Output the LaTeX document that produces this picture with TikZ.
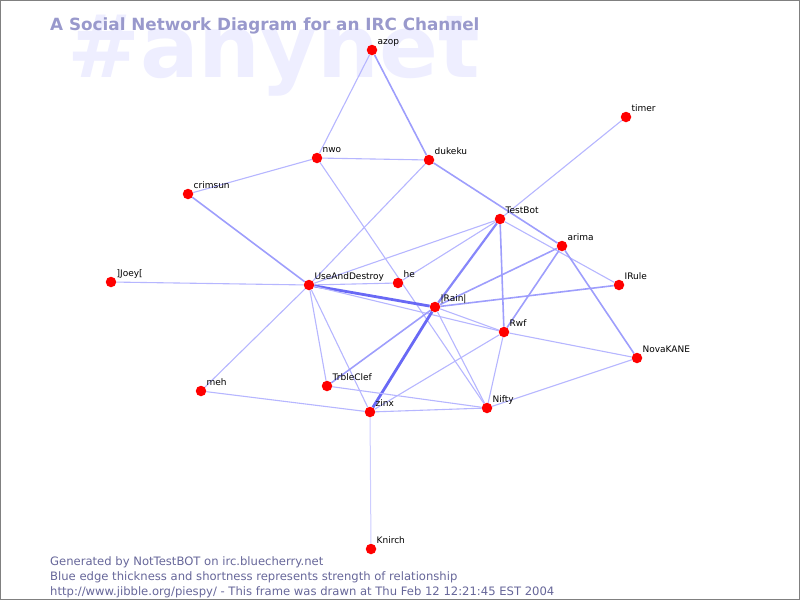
\documentclass[tikz,border=0pt]{standalone}
\usepackage{fontspec}
\setmainfont{DejaVu Sans}
\usepackage{tikz}
\usetikzlibrary{positioning}

\definecolor{WaterMark}{RGB}{238,238,255}
\definecolor{TitleBlue}{RGB}{153,153,204}
\definecolor{FootBlue}{RGB}{102,102,153}
\definecolor{EdgeFaint}{RGB}{205,205,255}
\definecolor{EdgeThin}{RGB}{182,182,255}
\definecolor{EdgeMid}{RGB}{158,158,252}
\definecolor{EdgeStrong}{RGB}{135,135,250}
\definecolor{EdgeThick}{RGB}{105,105,245}

\pgfdeclarelayer{watermark}
\pgfdeclarelayer{edges}
\pgfsetlayers{watermark,edges,main}

\begin{document}
\begin{tikzpicture}[x=1pt, y=-1pt]
    \tikzstyle{irc-user}=[circle, fill=red, minimum size=10.5pt, inner sep=0pt]
    \tikzstyle{user-name}=[anchor=base west, inner sep=0pt, yshift=5.5pt, text=black, font=\fontsize{9}{10.5}\selectfont]
    \tikzstyle{foot-line}=[anchor=base west, inner sep=0pt, text=FootBlue, font=\fontsize{11.6}{13}\selectfont]
    \tikzstyle{link-faint}=[line width=1pt, color=EdgeFaint]
    \tikzstyle{link-thin}=[line width=1.1pt, color=EdgeThin]
    \tikzstyle{link-mid}=[line width=1.6pt, color=EdgeMid]
    \tikzstyle{link-strong}=[line width=2.2pt, color=EdgeStrong]
    \tikzstyle{link-thick}=[line width=2.8pt, color=EdgeThick]

    \useasboundingbox (0,0) rectangle (800,600);
    \draw[gray, line width=1pt] (0.5,0.5) rectangle (799.5,599.5);

    \begin{pgfonlayer}{watermark}
    \node[anchor=base west, inner sep=0pt, text=WaterMark, font=\fontsize{87}{87}\selectfont\bfseries] (channel) at (67,77) {\#anynet};
    \end{pgfonlayer}
    \node[anchor=base west, inner sep=0pt, text=TitleBlue, font=\fontsize{16.8}{18}\selectfont\bfseries] (title) at (50,30) {A Social Network Diagram for an IRC Channel};

    \node[irc-user, label={[user-name]right:azop}] (azop) at (372,50) {};
    \node[irc-user, label={[user-name]right:nwo}] (nwo) at (317,158) {};
    \node[irc-user, label={[user-name]right:dukeku}] (dukeku) at (429,160) {};
    \node[irc-user, label={[user-name]right:crimsun}] (crimsun) at (188,194) {};
    \node[irc-user, label={[user-name]right:timer}] (timer) at (626,117) {};
    \node[irc-user, label={[user-name]right:TestBot}] (testbot) at (500,219) {};
    \node[irc-user, label={[user-name]right:arima}] (arima) at (562,246) {};
    \node[irc-user, label={[user-name]right:{]Joey[}}] (joey) at (111,282) {};
    \node[irc-user, label={[user-name]right:UseAndDestroy}] (useanddestroy) at (309,285) {};
    \node[irc-user, label={[user-name]right:he}] (he) at (398,283) {};
    \node[irc-user, label={[user-name]right:{|Rain|}}] (rain) at (435,307) {};
    \node[irc-user, label={[user-name]right:IRule}] (irule) at (619,285) {};
    \node[irc-user, label={[user-name]right:Rwf}] (rwf) at (504,332) {};
    \node[irc-user, label={[user-name]right:NovaKANE}] (novakane) at (637,358) {};
    \node[irc-user, label={[user-name]right:TrbleClef}] (trbleclef) at (327,386) {};
    \node[irc-user, label={[user-name]right:meh}] (meh) at (201,391) {};
    \node[irc-user, label={[user-name]right:zinx}] (zinx) at (370,412) {};
    \node[irc-user, label={[user-name]right:Nifty}] (nifty) at (487,408) {};
    \node[irc-user, label={[user-name]right:Knirch}] (knirch) at (371,549) {};

    \begin{pgfonlayer}{edges}
    \draw[link-thin] (azop) -- (nwo);
    \draw[link-mid] (azop) -- (dukeku);
    \draw[link-thin] (nwo) -- (dukeku);
    \draw[link-thin] (nwo) -- (crimsun);
    \draw[link-thin] (nwo) -- (nifty);
    \draw[link-thin] (dukeku) -- (useanddestroy);
    \draw[link-mid] (dukeku) -- (arima);
    \draw[link-mid] (crimsun) -- (useanddestroy);
    \draw[link-thin] (timer) -- (testbot);

    \draw[link-thin] (joey) -- (useanddestroy);
    \draw[link-thin] (useanddestroy) -- (he);
    \draw[link-thin] (useanddestroy) -- (testbot);
    \draw[link-thick] (useanddestroy) -- (rain);
    \draw[link-thin] (useanddestroy) -- (rwf);
    \draw[link-thin] (useanddestroy) -- (trbleclef);
    \draw[link-thin] (useanddestroy) -- (zinx);
    \draw[link-thin] (useanddestroy) -- (meh);
    \draw[link-thin] (he) -- (testbot);

    \draw[link-strong] (testbot) -- (rain);
    \draw[link-mid] (testbot) -- (rwf);
    \draw[link-thin] (testbot) -- (irule);
    \draw[link-mid] (arima) -- (rain);
    \draw[link-mid] (arima) -- (rwf);
    \draw[link-mid] (arima) -- (novakane);
    \draw[link-mid] (rain) -- (irule);
    \draw[link-thin] (rain) -- (rwf);
    \draw[link-thin] (rain) -- (nifty);
    \draw[link-mid] (rain) -- (trbleclef);
    \draw[link-thick] (rain) -- (zinx);

    \draw[link-thin] (rwf) -- (novakane);
    \draw[link-thin] (rwf) -- (nifty);
    \draw[link-thin] (rwf) -- (zinx);
    \draw[link-thin] (nifty) -- (novakane);
    \draw[link-thin] (trbleclef) -- (nifty);
    \draw[link-thin] (zinx) -- (nifty);
    \draw[link-thin] (zinx) -- (meh);
    \draw[link-faint] (zinx) -- (knirch);
    \end{pgfonlayer}

    \node[foot-line] (foot-bot) at (50,565) {Generated by NotTestBOT on irc.bluecherry.net};
    \node[foot-line] (foot-key) at (50,580) {Blue edge thickness and shortness represents strength of relationship};
    \node[foot-line] (foot-url) at (50,595) {http://www.jibble.org/piespy/ - This frame was drawn at Thu Feb 12 12:21:45 EST 2004};
\end{tikzpicture}
\end{document}
